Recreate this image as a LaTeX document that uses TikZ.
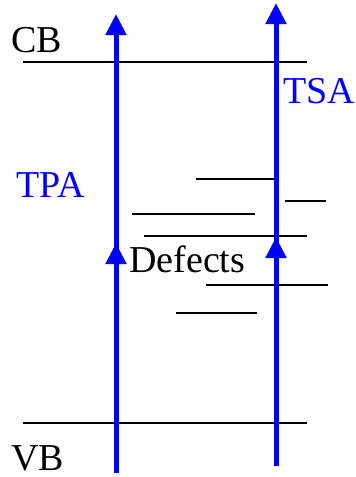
\documentclass[tikz,border=0pt]{standalone}
\usepackage{fontspec}
\setmainfont{Liberation Serif}
\usetikzlibrary{arrows.meta}
\begin{document}
\begin{tikzpicture}[x=1pt,y=-1pt,
  level/.style={black, line width=1.8pt},
  beam/.style={blue, line width=5pt, -{Triangle[length=21pt,width=20pt]}},
  lab/.style={font=\fontsize{38}{40}\selectfont, inner sep=0pt, anchor=base west}]
\useasboundingbox (0,0) rectangle (356,477);
% band edges
\coordinate (cbL) at (23,62);  \coordinate (cbR) at (307,62);
\coordinate (vbL) at (23,423); \coordinate (vbR) at (307,423);
\draw[level] (cbL) -- (cbR);
\draw[level] (vbL) -- (vbR);
% defect levels
\coordinate (d1a) at (196,179); \coordinate (d1b) at (274,179);
\coordinate (d2a) at (285,201); \coordinate (d2b) at (326,201);
\coordinate (d3a) at (132,214); \coordinate (d3b) at (255,214);
\coordinate (d4a) at (144,236); \coordinate (d4b) at (307,236);
\coordinate (d5a) at (206,285); \coordinate (d5b) at (328,285);
\coordinate (d6a) at (176,313); \coordinate (d6b) at (257,313);
\foreach \i in {1,...,6} {\draw[level] (d\i a) -- (d\i b);}
% arrows
\coordinate (aS) at (116,473); \coordinate (aM) at (116,243); \coordinate (aT) at (116,14);
\coordinate (bS) at (276,466); \coordinate (bM) at (276,237); \coordinate (bT) at (276,3);
\draw[beam] (aS) -- (aT);
\draw[beam] (aS) -- (aM);
\draw[beam] (bS) -- (bT);
\draw[beam] (bS) -- (bM);
% labels
\node[lab] (cb) at (11,52) {CB};
\node[lab] (vb) at (11,470) {VB};
\node[lab, blue] (tpa) at (16,197) {TPA};
\node[lab, blue] (tsa) at (283,103) {TSA};
\node[lab] (def) at (129,272) {Defects};
\end{tikzpicture}
\end{document}
